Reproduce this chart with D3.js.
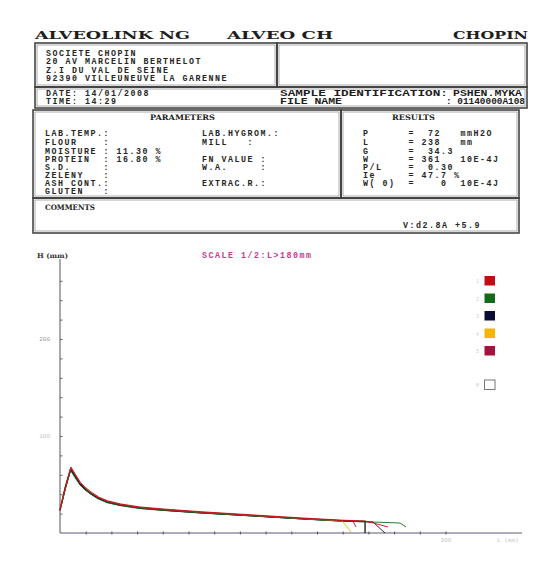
<!DOCTYPE html>
<html>
<head>
<meta charset="utf-8">
<script src="https://cdn.jsdelivr.net/npm/d3@7.9.0/dist/d3.min.js"></script>
<style>
  body { margin: 0; background: #fff; }
  svg { display: block; }
</style>
</head>
<body>
<div id="chart"></div>
<script>
// report texts
const addressLines = ['SOCIETE CHOPIN', '20 AV MARCELIN BERTHELOT', 'Z.I DU VAL DE SEINE', '92390 VILLEUNEUVE LA GARENNE'];
const paramsLeft = ['LAB.TEMP.:', 'FLOUR    :', 'MOISTURE : 11.30 %', 'PROTEIN  : 16.80 %', 'S.D.     :', 'ZELENY   :', 'ASH CONT.:', 'GLUTEN   :'];
const paramsMid = ['LAB.HYGROM.:', 'MILL   :', '', 'FN VALUE :', 'W.A.     :', '', 'EXTRAC.R.:', ''];
const results = ['P      =  72   mmH2O', 'L      = 238   mm', 'G      =  34.3', 'W      = 361   10E-4J', 'P/L    =  0.30', 'Ie     = 47.7 %', 'W( 0)  =    0  10E-4J'];

// curves: [L (mm), H (mm)]
const curve1 = [[0,24],[4,47.5],[8.5,68],[12,60.5],[16,52],[20,46.8],[24,42.5],[30,37.2],[37,33.2],[47,30],[62,26.9],[82,24.6],[109,22],[148,18.8],[187,15.6],[220,13.2],[237.4,12.4],[244,10.2],[255.3,6.2]];
const curve2 = [[0,23],[4,44.5],[8.2,64.5],[11.5,57.5],[15.5,49.5],[19.5,44.5],[23.5,40.4],[29.5,35.3],[36.5,31.3],[46.5,28.3],[62,25.2],[82,23.1],[109,20.6],[148,17.6],[187,14.5],[220,12.1],[237.4,11.6],[264.6,10.3],[269.3,6.2]];
const curve3 = [[0,23.2],[4,45],[8.3,65],[11.8,58],[15.7,49.8],[19.6,44.8],[23.4,40.6],[29.7,35.5],[36.7,31.5],[46.8,28.5],[62.3,25.4],[81.7,23.3],[109,20.8],[148,17.8],[187,14.7],[220,12.2],[243.6,11.3],[252.9,0]];
const curve4 = [[0,24.2],[4,47],[8.4,67.5],[12,60],[16,51.5],[20,46.2],[24,42],[30,36.8],[37,32.8],[47,29.6],[62,26.5],[82,24.2],[109,21.6],[148,18.4],[187,15.2],[219.5,12.6],[226.5,1]];
const curve5 = [[0,23.8],[4,46.5],[8.4,66.8],[11.9,59.5],[15.8,51.2],[19.7,46],[23.5,41.8],[29.8,36.5],[36.8,32.5],[46.9,29.4],[62.4,26.2],[81.8,24],[109,21.4],[148,18.3],[187,15.1],[228,12.2],[230.4,6.2]];
const curveMean = [[0,23.7],[4,46],[8.3,66],[11.7,58.8],[15.6,50.5],[19.5,45.4],[23.3,41.2],[29.6,36],[36.6,32],[46.7,28.9],[62.3,25.8],[81.7,23.7],[109,21.1],[147.9,18],[186.8,14.9],[220,12.4],[237.4,11.9],[237.4,0]];

const legendLabels = ['1', '2', '3', '4', '5', 'M'];
const xTicks = [20, 40, 60, 80, 100, 120, 140, 160, 180, 200, 220, 240, 260, 280, 300];
const yTicks = [20, 40, 60, 80, 100, 120, 140, 160, 180, 200, 220, 240, 260];

const colors = ['#c20c16', '#116b18', '#0b0b36', '#f7b500', '#a8103e', '#111'];
const curves = [curve1, curve2, curve3, curve4, curve5, curveMean];

const width = 536, height = 572;
const svg = d3.select('#chart').append('svg')
  .attr('width', width).attr('height', height);

const mono = 'Liberation Mono, DejaVu Sans Mono, monospace';
const serif = 'DejaVu Serif, Liberation Serif, serif';

function monoText(x, y, str, color) {
  return svg.append('text')
    .attr('x', x).attr('y', y)
    .attr('font-family', mono)
    .attr('font-weight', 'bold')
    .attr('font-size', 8.3)
    .attr('letter-spacing', 1.52)
    .attr('fill', color || '#262626')
    .text(str.replace(/ /g, '\u00A0'));
}

function fitText(x, y, str, len, size, family) {
  return svg.append('text')
    .attr('x', x).attr('y', y)
    .attr('font-family', family || serif)
    .attr('font-weight', 'bold')
    .attr('font-size', size)
    .attr('textLength', len)
    .attr('lengthAdjust', 'spacingAndGlyphs')
    .attr('fill', '#1e1e1e')
    .text(str.replace(/ /g, '\u00A0'));
}

function box(x0, y0, x1, y1) {
  svg.append('rect').attr('x', x0).attr('y', y0)
    .attr('width', x1 - x0).attr('height', y1 - y0)
    .attr('fill', 'none').attr('stroke', '#3a3a3a').attr('stroke-width', 1.5);
  svg.append('rect').attr('x', x0 + 2).attr('y', y0 + 2)
    .attr('width', x1 - x0 - 4).attr('height', y1 - y0 - 4)
    .attr('fill', 'none').attr('stroke', '#8a8a8a').attr('stroke-width', 0.7);
}

// header
fitText(35, 39, 'ALVEOLINK NG', 155, 10.5);
fitText(227, 39, 'ALVEO CH', 106, 10.5);
fitText(453, 39, 'CHOPIN', 75, 10.5);

// boxes
box(35, 43, 277, 87);
box(277, 43, 527, 87);
box(35, 87, 527, 108);
box(33, 110, 341, 198);
box(341, 110, 519, 198);
box(33, 198, 519, 233);

addressLines.forEach((s, i) => monoText(46, 56 + i * 8.3, s));

monoText(46, 95.5, 'DATE: 14/01/2008');
monoText(46, 103.5, 'TIME: 14:29');
fitText(280, 95.5, 'SAMPLE IDENTIFICATION:', 168, 8.3, mono);
fitText(453, 95.5, 'PSHEN.MYKA', 69, 8.3, mono);
fitText(280, 103.5, 'FILE NAME', 62, 8.3, mono);
fitText(446, 103.5, ': 01140000A108', 79, 8.3, mono);

fitText(150, 120, 'PARAMETERS', 65, 7.5);
fitText(392, 120, 'RESULTS', 43, 7.5);
const rowY = [136, 145, 153.5, 162, 170, 178, 186, 193.5];
paramsLeft.forEach((s, i) => monoText(45, rowY[i], s));
paramsMid.forEach((s, i) => { if (s) monoText(202, rowY[i], s); });
results.forEach((s, i) => monoText(363, rowY[i], s));

fitText(45, 210, 'COMMENTS', 50, 7.5);
monoText(403, 228, 'V:d2.8A +5.9');

// chart
const x = d3.scaleLinear().domain([0, 360]).range([60, 522.6]);
const y = d3.scaleLinear().domain([0, 280]).range([533, 261.4]);

svg.append('text').attr('x', 37).attr('y', 257.5)
  .attr('font-family', serif).attr('font-weight', 'bold')
  .attr('font-size', 6.5).attr('fill', '#333')
  .attr('textLength', 31).attr('lengthAdjust', 'spacingAndGlyphs')
  .text('H\u00A0(mm)');

monoText(202, 258, 'SCALE 1/2:L>180mm', '#c73a8e');

const yAxis = svg.append('g')
  .attr('transform', 'translate(60,0)')
  .call(d3.axisLeft(y).tickValues(yTicks).tickSize(-2.5).tickPadding(10)
    .tickFormat(d => (d === 100 || d === 200) ? d : ''));
yAxis.select('.domain').attr('d', `M0,${y(0)}V259`).attr('stroke', '#555').attr('stroke-width', 1);
yAxis.selectAll('.tick line').attr('stroke', '#666');
yAxis.selectAll('.tick text').attr('font-family', mono).attr('font-size', 6)
  .attr('fill', d => d === 200 ? '#9a9a9a' : '#c4c4c4');

const xAxis = svg.append('g')
  .attr('transform', `translate(0,${y(0)})`)
  .call(d3.axisBottom(x).tickValues(xTicks).tickSize(-2.5).tickPadding(5)
    .tickFormat(d => d === 300 ? d : ''));
xAxis.select('.domain').attr('d', `M60,0H522`).attr('stroke', '#5c5872').attr('stroke-width', 1);
xAxis.selectAll('.tick line').attr('stroke', '#555').attr('y2', 1.5).attr('y1', -1.5);
xAxis.selectAll('.tick text').attr('font-family', mono).attr('font-size', 6).attr('fill', '#c4c4c4');

svg.append('text').attr('x', 497).attr('y', 542)
  .attr('font-family', mono).attr('font-size', 6).attr('fill', '#c4c4c4')
  .text('L\u00A0(mm)');

const line = d3.line().x(d => x(d[0])).y(d => y(d[1]));

// mean curve first, individual curves on top
[5, 2, 1, 3, 4, 0].forEach(i => {
  svg.append('path')
    .attr('d', line(curves[i]))
    .attr('fill', 'none')
    .attr('stroke', colors[i])
    .attr('stroke-width', i === 5 ? 1.3 : 0.9)
    .attr('stroke-linejoin', 'round');
});

// legend
const legY = [276, 293.5, 311, 328.5, 346, 380];
legendLabels.forEach((lab, i) => {
  svg.append('rect')
    .attr('x', 484.5).attr('y', legY[i])
    .attr('width', 10.5).attr('height', 9.5)
    .attr('fill', i === 5 ? '#fff' : colors[i])
    .attr('stroke', i === 5 ? '#777' : 'none')
    .attr('stroke-width', 1);
  svg.append('text')
    .attr('x', 479).attr('y', legY[i] + 7)
    .attr('text-anchor', 'end')
    .attr('font-family', mono).attr('font-size', 5)
    .attr('fill', '#cfcfcf')
    .text(lab);
});
</script>
</body>
</html>
